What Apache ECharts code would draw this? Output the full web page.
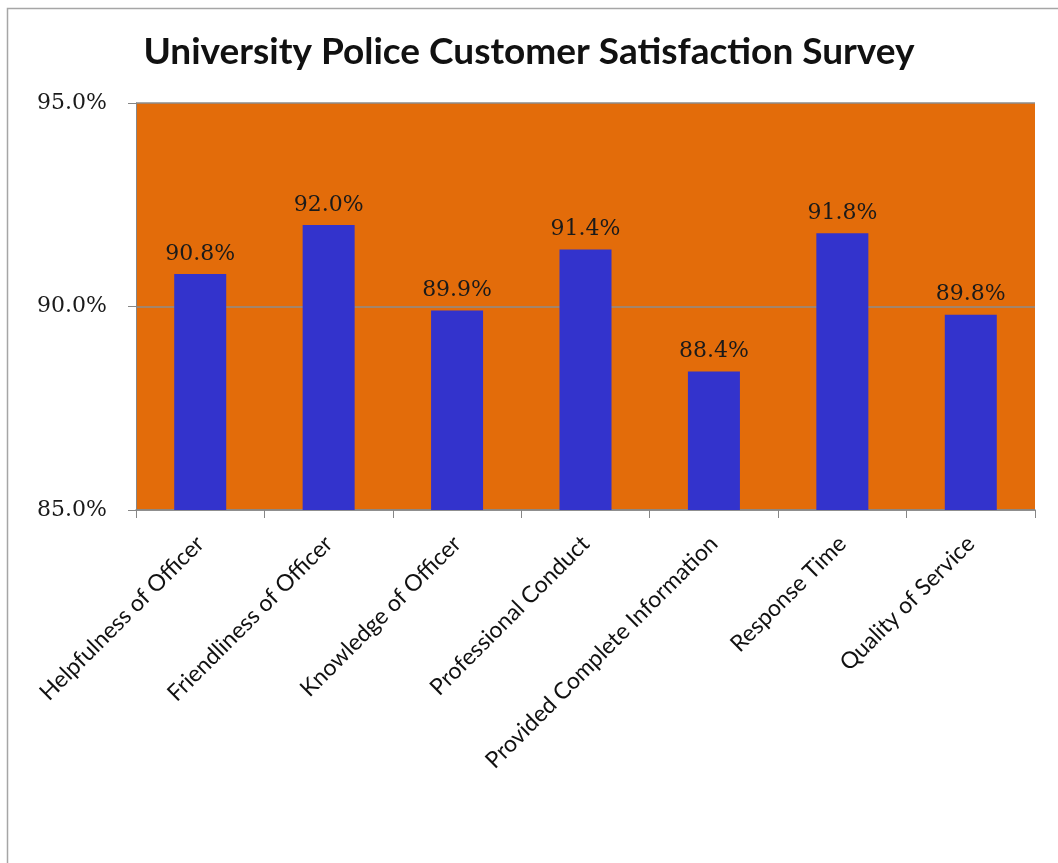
<!DOCTYPE html>
<html>
<head>
<meta charset="utf-8">
<script src="https://cdn.jsdelivr.net/npm/echarts@6/dist/echarts.min.js"></script>
<style>
  html, body { margin: 0; padding: 0; background: #ffffff; }
  #chart { width: 1058px; height: 863px; }
</style>
</head>
<body>
<div id="chart"></div>
<script>
// Survey categories and satisfaction percentages
const categories = [
  'Helpfulness of Officer',
  'Friendliness of Officer',
  'Knowledge of Officer',
  'Professional Conduct',
  'Provided Complete Information',
  'Response Time',
  'Quality of Service'
];
const satisfaction = [90.8, 92.0, 89.9, 91.4, 88.4, 91.8, 89.8];
const yTicks = [85, 90, 95];

const chart = echarts.init(document.getElementById('chart'), null, { renderer: 'canvas' });

chart.setOption({
  backgroundColor: '#ffffff',
  animation: false,
  graphic: [{
    type: 'rect',
    left: 5, top: 6,
    shape: { width: 1100, height: 900 },
    style: { fill: 'none', stroke: '#a6a6a6', lineWidth: 1.5 },
    silent: true,
    z: -10
  }],
  title: {
    text: 'University Police Customer Satisfaction Survey',
    left: 'center',
    top: 29,
    textStyle: {
      fontFamily: 'Lato',
      fontWeight: 'bold',
      fontSize: 37,
      color: '#111111'
    }
  },
  grid: {
    left: 136, right: 23, top: 103, bottom: 353,
    show: true,
    backgroundColor: '#E36C0A',
    borderWidth: 0
  },
  xAxis: {
    type: 'category',
    data: categories,
    axisLine: { lineStyle: { color: '#868686', width: 1.5 } },
    axisTick: { show: true, length: 8, alignWithLabel: false, lineStyle: { color: '#868686' } },
    axisLabel: {
      rotate: 45,
      interval: 0,
      margin: 30,
      fontFamily: 'Lato',
      fontSize: 23,
      color: '#111111'
    }
  },
  yAxis: {
    type: 'value',
    min: yTicks[0],
    max: yTicks[yTicks.length - 1],
    interval: yTicks[1] - yTicks[0],
    axisLine: { show: true, lineStyle: { color: '#868686', width: 1 } },
    axisTick: { show: true, length: 8, lineStyle: { color: '#868686' } },
    splitLine: { show: true, lineStyle: { color: '#8c8c8c', width: 1.5 } },
    axisLabel: {
      margin: 29,
      fontFamily: 'DejaVu Serif',
      fontSize: 22,
      color: '#1a1a1a',
      formatter: v => v.toFixed(1) + '%'
    }
  },
  series: [{
    type: 'bar',
    data: satisfaction,
    barWidth: 52,
    itemStyle: { color: '#3333CC' },
    label: {
      show: true,
      position: 'top',
      distance: 9,
      fontFamily: 'DejaVu Serif',
      fontSize: 22,
      color: '#1a1a1a',
      formatter: p => p.value.toFixed(1) + '%'
    }
  }]
});
</script>
</body>
</html>
